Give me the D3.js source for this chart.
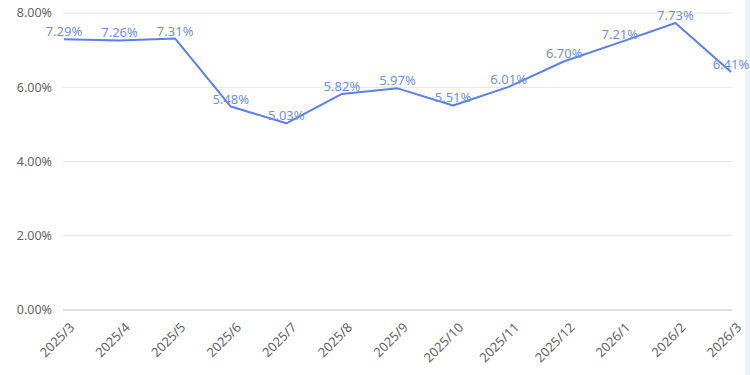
<!DOCTYPE html>
<html><head><meta charset="utf-8">
<script src="https://cdn.jsdelivr.net/npm/d3@7/dist/d3.min.js"></script>
<style>body{margin:0;background:#fff}svg{display:block}</style>
</head><body><svg id="c" width="750" height="375"></svg>
<script>
const categories = ["2025/3","2025/4","2025/5","2025/6","2025/7","2025/8","2025/9","2025/10","2025/11","2025/12","2026/1","2026/2","2026/3"];
const values = [7.29,7.26,7.31,5.48,5.03,5.82,5.97,5.51,6.01,6.70,7.21,7.73,6.41];
const yTicks = [0,2,4,6,8];

const svg = d3.select("#c");
const font = "'Noto Sans','Open Sans',sans-serif";
const m = {l:64, r:19, t:13, b:65};
const W = 750, H = 375;
const x = d3.scalePoint().domain(categories).range([m.l, W - m.r]);
const y = d3.scaleLinear().domain([0,8]).range([H - m.b, m.t]);

svg.append("rect").attr("x",745).attr("y",0).attr("width",5).attr("height",H).attr("fill","#eef3fb");

const grid = svg.append("g");
grid.selectAll("line").data(yTicks).join("line")
  .attr("x1", m.l - 1).attr("x2", W - m.r + 1)
  .attr("y1", d => y(d)).attr("y2", d => y(d))
  .attr("stroke", d => d === 0 ? "#bdbdbd" : "#e3e3e3").attr("stroke-width", 1);

svg.append("g").selectAll("text").data(yTicks).join("text")
  .attr("x", 52).attr("y", d => y(d)).attr("dy","0.35em")
  .attr("text-anchor","end").attr("font-family",font).attr("font-size",12.5).attr("fill","#666")
  .text(d => d.toFixed(2) + "%");

svg.append("g").selectAll("text").data(categories).join("text")
  .attr("transform", d => `translate(${x(d)+8},${H - m.b + 15}) rotate(-45)`)
  .attr("text-anchor","end").attr("dy","0.35em")
  .attr("font-family",font).attr("font-size",13).attr("fill","#666")
  .text(d => d);

const line = d3.line().x((d,i) => x(categories[i])).y(d => y(d));
svg.append("path").datum(values).attr("d", line)
  .attr("fill","none").attr("stroke","#5b80e8").attr("stroke-width",2).attr("stroke-linejoin","round");

svg.append("g").selectAll("text").data(values).join("text")
  .attr("x",(d,i) => x(categories[i])).attr("y", d => y(d) - 3)
  .attr("text-anchor","middle").attr("font-family",font).attr("font-size",13).attr("fill","#6f90e6")
  .text(d => d.toFixed(2) + "%");
</script></body></html>
